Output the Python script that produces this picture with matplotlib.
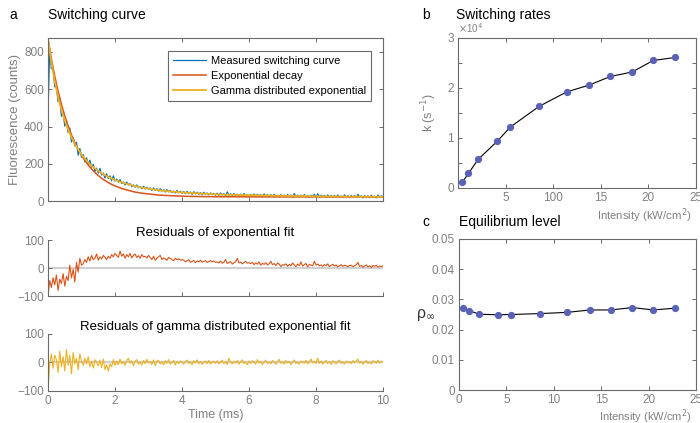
import numpy as np
import matplotlib
matplotlib.use('Agg')
import matplotlib.pyplot as plt

plt.rcParams['font.family'] = ['Liberation Sans', 'DejaVu Sans']

# panel a: time base of the measured trace (ms), one sample per 0.05 ms
dt = 0.05
measured = [470,
  820, 710, 717, 613, 609, 534, 553, 455, 475, 402, 432, 368, 392, 317, 338, 296, 315, 246, 282, 235,
  250, 210, 232, 195, 219, 182, 197, 160, 176, 150, 175, 139, 150, 124, 146, 121, 135, 109, 135, 107,
  118, 101, 115, 94, 102, 86, 102, 86, 93, 77, 87, 74, 86, 71, 77, 66, 79, 64, 74, 63,
  70, 57, 70, 58, 66, 53, 66, 53, 60, 48, 61, 49, 57, 46, 53, 43, 56, 44, 52, 41,
  51, 40, 52, 40, 48, 36, 50, 38, 47, 36, 45, 34, 47, 36, 43, 33, 43, 34, 41, 31,
  42, 30, 43, 32, 39, 28, 49, 30, 39, 28, 40, 29, 37, 26, 37, 28, 40, 26, 34, 25,
  35, 27, 38, 25, 36, 26, 34, 23, 38, 26, 34, 23, 34, 25, 36, 23, 31, 22, 34, 25,
  32, 22, 35, 24, 32, 21, 40, 23, 32, 21, 31, 23, 34, 21, 29, 19, 31, 22, 36, 20,
  39, 20, 31, 22, 30, 19, 33, 21, 29, 19, 30, 21, 32, 19, 27, 18, 33, 21, 29, 19,
  30, 21, 29, 19, 36, 20, 28, 17, 29, 20, 28, 18, 31, 20, 26, 17, 32, 20, 28, 21]

fit_t = [0, 0.1, 0.2, 0.3, 0.4, 0.5, 0.6, 0.7, 0.8, 0.9, 1.0, 1.1, 1.2, 1.3, 1.4, 1.5, 1.6,
         1.7, 1.8, 1.9, 2.0, 2.2, 2.4, 2.6, 2.8, 3.0, 3.3, 3.6, 4.0, 4.5, 5.0, 6.0, 7.0, 8.0, 9.0, 10.0]
exp_fit = [870, 764, 671, 590, 519, 457, 403, 355, 314, 277, 246, 218, 193, 172, 153, 137, 122,
           110, 99, 89, 81, 67, 57, 48, 42, 38, 32, 29, 26, 24, 23, 22.3, 22, 22, 22, 22]
gamma_fit = [870, 745, 643, 559, 490, 432, 383, 342, 306, 276, 250, 228, 207, 190, 175, 162, 149,
             139, 129, 121, 113, 100, 89, 80, 72, 66, 58, 52, 46, 41, 36, 31, 28, 25, 24, 23]

resid_exp = [-100,
  -45, -70, -35, -60, -25, -80, -40, -55, -20, -65, -30, -45, 10, -35, -5, -50, 20, -15, 35, 10,
  15, 30, 20, 40, 25, 45, 30, 35, 50, 28, 40, 32, 45, 38, 30, 42, 35, 48, 40, 52,
  45, 38, 60, 42, 50, 35, 48, 40, 52, 36, 45, 50, 38, 44, 35, 48, 40, 42, 36, 45,
  38, 30, 42, 28, 35, 40, 45, 30, 36, 32, 28, 38, 34, 30, 26, 35, 30, 33, 28, 30,
  28, 22, 26, 30, 20, 24, 27, 19, 25, 22, 28, 21, 24, 26, 20, 23, 27, 22, 25, 20,
  22, 18, 25, 17, 21, 30, 16, 20, 23, 14, 19, 22, 35, 18, 21, 15, 20, 24, 17, 19,
  16, 20, 12, 18, 14, 22, 10, 17, 13, 19, 11, 15, 24, 12, 16, 9, 18, 14, 5, 12,
  10, 15, 6, 13, 8, 18, 11, 5, 14, 9, 22, 7, 12, 16, 4, 13, 10, 8, 24, 11,
  14, 8, 11, 6, 12, 9, 15, 5, 10, 13, 7, 11, 4, 9, 12, 6, 10, 8, 5, 9,
  10, 5, 8, 12, 20, 6, 9, 3, 7, 11, 4, 8, 2, 9, 6, 10, 3, 7, 5, 8]

resid_gamma = [-100,
  -5, 30, -20, 25, 10, -35, 40, -15, 20, -30, 45, -10, 25, -40, 35, -5, 15, -25, 30, 5,
  -10, 15, -5, 20, -15, 5, -20, 10, 0, -12, 8, -18, 12, -25, -8, -30, -5, -15, 10, -10,
  5, -8, 12, -5, 3, -10, 8, 15, -3, 6, -12, 4, 10, -6, 2, -9, 7, -4, 11, -2,
  3, -7, 9, -11, 4, 8, -5, 2, -8, 6, -3, 10, -6, 1, 7, -9, 3, -4, 5, 0,
  -6, 4, 8, -3, 2, -8, 6, -2, 9, -5, 3, -7, 1, 5, -4, 7, -6, 2, 4, -3,
  6, -5, 2, 8, -4, 3, -7, 15, 1, -5, 4, -2, 7, -6, 3, 9, -4, 2, -8, 5,
  -3, 6, 1, -6, 10, -2, 4, -7, 3, 8, -4, 2, -5, 7, 0, -6, 4, 11, -3, 2,
  -5, 7, -2, 4, -8, 3, 9, -4, 1, -6, 5, 2, -3, 8, -5, 3, 12, -2, 4, -4,
  15, -3, 5, -6, 2, 7, -4, 3, -7, 6, 1, -5, 4, 8, -3, 2, -6, 5, -2, 3,
  -4, 6, -1, 5, 12, -3, 4, -6, 2, 7, -4, 1, -5, 6, 3, -3, 8, -2, 4, 2]

# panels b and c
intensity = [0.46, 1.1, 2.1, 4.1, 5.5, 8.5, 11.4, 13.8, 16.0, 18.3, 20.5, 22.8]
rate_1e4 = [0.12, 0.29, 0.57, 0.93, 1.22, 1.63, 1.92, 2.06, 2.23, 2.32, 2.55, 2.61]
rho_inf = [0.0271, 0.0263, 0.0251, 0.0249, 0.0250, 0.0253, 0.0257, 0.0265, 0.0265, 0.0273, 0.0265, 0.0271]

BLUE = '#0072BD'
RED = '#D95319'
YELLOW = '#EDB120'
DOT = '#5A62B8'
GREY = '#808080'
SPINE = '#6a6a6a'

def style(ax, box=True):
  for s in ax.spines.values():
    s.set_color(SPINE)
    s.set_linewidth(0.8)
  if not box:
    ax.spines['top'].set_visible(False)
    ax.spines['right'].set_visible(False)
  ax.tick_params(direction='in', colors=SPINE, labelcolor=GREY, labelsize=8.5,
                 length=3, width=0.7, top=box, right=box, pad=3)

t = np.arange(len(measured)) * dt

fig = plt.figure(figsize=(7, 4.23), dpi=100)

ax = fig.add_axes([0.0686, 0.5248, 0.4786, 0.3853])
ax.plot(t, measured, color=BLUE, lw=0.9, label='Measured switching curve')
ax.plot(fit_t, exp_fit, color=RED, lw=1.1, label='Exponential decay')
ax.plot(fit_t, gamma_fit, color=YELLOW, lw=1.3, label='Gamma distributed exponential')
ax.set_xlim(0, 10)
ax.set_ylim(0, 875)
ax.set_yticks([0, 200, 400, 600, 800])
ax.set_xticks([0, 2, 4, 6, 8, 10])
ax.set_xticklabels([])
ax.set_ylabel('Fluorescence (counts)', color=GREY, fontsize=9.5, labelpad=2)
style(ax)
leg = ax.legend(loc='upper right', bbox_to_anchor=(0.982, 0.957), fontsize=8.0, frameon=True,
                fancybox=False, handlelength=3.0, borderpad=0.45, labelspacing=0.45,
                handletextpad=0.45)
leg.get_frame().set_edgecolor('#444444')
leg.get_frame().set_linewidth(0.8)

ax1 = fig.add_axes([0.0686, 0.3002, 0.4786, 0.1324])
ax1.axhline(0, color='#cfcfcf', lw=1.6, zorder=1)
ax1.plot(t, resid_exp, color=RED, lw=0.8, zorder=2)
ax1.set_xlim(0, 10)
ax1.set_ylim(-100, 100)
ax1.set_yticks([-100, 0, 100])
ax1.set_xticks([0, 2, 4, 6, 8, 10])
ax1.set_xticklabels([])
style(ax1, box=False)
ax1.set_title('Residuals of exponential fit', fontsize=9.5, pad=3)

ax2 = fig.add_axes([0.0686, 0.0757, 0.4786, 0.1348])
ax2.axhline(0, color='#cfcfcf', lw=1.6, zorder=1)
ax2.plot(t, resid_gamma, color=YELLOW, lw=0.8, zorder=2)
ax2.set_xlim(0, 10)
ax2.set_ylim(-100, 100)
ax2.set_yticks([-100, 0, 100])
ax2.set_xticks([0, 2, 4, 6, 8, 10])
style(ax2, box=False)
ax2.set_title('Residuals of gamma distributed exponential fit', fontsize=9.5, pad=3)
ax2.set_xlabel('Time (ms)', color=GREY, fontsize=9, labelpad=1)

axb = fig.add_axes([0.6543, 0.5556, 0.34, 0.3546])
axb.plot(intensity, rate_1e4, color='black', lw=0.8, marker='o', ms=4.2,
         mfc=DOT, mec=DOT)
axb.set_xlim(0, 25)
axb.set_ylim(0, 3)
axb.set_xticks([5, 10, 15, 20, 25])
axb.set_xticklabels(['5', '100', '15', '20', '25'])
axb.set_yticks([0, 0.5, 1, 1.5, 2, 2.5, 3])
axb.set_yticklabels(['0', '', '1', '', '2', '', '3'])
style(axb)
axb.set_ylabel('k (s$^{-1}$)', color=GREY, fontsize=9, labelpad=6)
axb.text(0.0, 1.02, r'$\times$10$^4$', transform=axb.transAxes, color=GREY, fontsize=7,
         ha='left', va='bottom')
axb.text(0.98, -0.12, 'Intensity (kW/cm$^2$)', transform=axb.transAxes, color=GREY,
         fontsize=8.2, ha='right', va='top')

axc = fig.add_axes([0.6557, 0.0780, 0.3386, 0.3570])
axc.plot(intensity, rho_inf, color='black', lw=0.8, marker='o', ms=4.2,
         mfc=DOT, mec=DOT)
axc.set_xlim(0, 25)
axc.set_ylim(0, 0.05)
axc.set_xticks([0, 5, 10, 15, 20, 25])
axc.set_yticks([0, 0.01, 0.02, 0.03, 0.04, 0.05])
axc.set_yticklabels(['0', '0.01', '0.02', '0.03', '0.04', '0.05'])
style(axc)
axc.set_ylabel('ρ$_\\infty$', color='#333333', fontsize=11.5, rotation=0, labelpad=4, va='center')
axc.text(0.98, -0.112, 'Intensity (kW/cm$^2$)', transform=axc.transAxes, color=GREY,
         fontsize=8.0, ha='right', va='top')

fig.text(9 / 700, 1 - 15 / 423, 'a', fontsize=10, va='center')
fig.text(48 / 700, 1 - 15 / 423, 'Switching curve', fontsize=10, va='center')
fig.text(422 / 700, 1 - 15 / 423, 'b', fontsize=10, va='center')
fig.text(456 / 700, 1 - 15 / 423, 'Switching rates', fontsize=10, va='center')
fig.text(422 / 700, 1 - 222 / 423, 'c', fontsize=10, va='center')
fig.text(459 / 700, 1 - 222 / 423, 'Equilibrium level', fontsize=10, va='center')

fig.savefig('out.png', dpi=100)
